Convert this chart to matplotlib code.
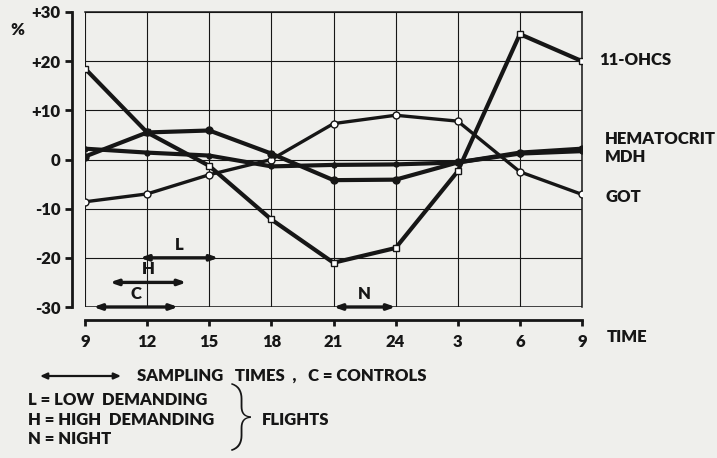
import numpy as np
import matplotlib
matplotlib.use("Agg")
import matplotlib.pyplot as plt
from matplotlib.patches import FancyArrowPatch

# sampling times (continuous clock hours, next day after 24)
times = [9, 12, 15, 18, 21, 24, 27, 30, 33]
tick_labels = ["9", "12", "15", "18", "21", "24", "3", "6", "9"]
y_ticks = [30, 20, 10, 0, -10, -20, -30]
y_tick_labels = ["+30", "+20", "+10", "0", "-10", "-20", "-30"]

# % change
ohcs = [18.5, 5.5, -1.3, -12.2, -21.0, -18.0, -2.4, 25.5, 20.0]
got = [-8.6, -7.0, -3.1, 0.0, 7.3, 9.0, 7.8, -2.5, -7.1]
hematocrit = [0.6, 5.5, 5.9, 1.2, -4.2, -4.1, -0.6, 1.4, 2.2]
mdh = [2.2, 1.4, 0.8, -1.4, -1.1, -1.0, -0.6, 1.2, 1.7]

# flight / control sampling windows
win_names = ["L", "H", "C", "N"]
win_start = [11.65, 10.2, 9.4, 21.0]
win_end = [15.45, 13.9, 13.5, 24.0]
win_level = [-20, -25, -30, -30]

W, H = 717, 458
INK = "#161616"
BG = "#efefec"
FS = 12

plt.rcParams["font.family"] = ["Lato", "DejaVu Sans"]
plt.rcParams["font.weight"] = "heavy"

fig = plt.figure(figsize=(W / 100, H / 100), dpi=100, facecolor=BG)
ax = fig.add_axes([85 / W, 1 - 307 / H, 497 / W, 295 / H], facecolor=BG)


def px(x, y):
    return x / W, 1 - y / H


ax.set_xlim(9, 33)
ax.set_ylim(-30, 30)
ax.set_xticks(times)
ax.set_xticklabels(tick_labels)
ax.set_yticks(y_ticks)
ax.set_yticklabels(y_tick_labels)
ax.grid(True, color=INK, lw=0.8)

for s in ["top", "right"]:
    ax.spines[s].set_color(INK)
    ax.spines[s].set_linewidth(1.1)
ax.axvline(9, color=INK, lw=1.1)
ax.axhline(-30, color=INK, lw=1.1)
for s in ["left", "bottom"]:
    ax.spines[s].set_position(("outward", 9.5))
    ax.spines[s].set_linewidth(2.0)
    ax.spines[s].set_color(INK)
ax.tick_params(axis="y", direction="out", length=5, width=2, color=INK,
               labelsize=FS, pad=3, labelcolor=INK)
ax.tick_params(axis="x", direction="out", length=4, width=2, color=INK,
               labelsize=FS, pad=6, labelcolor=INK)

ax.plot(times, ohcs, color=INK, lw=3.0, marker="s", ms=4.5, mfc="white",
        mec=INK, mew=1.0, solid_joinstyle="round", zorder=4)
ax.plot(times, got, color=INK, lw=2.4, marker="o", ms=5, mfc="white",
        mec=INK, mew=1.0, solid_joinstyle="round", zorder=4)
ax.plot(times, hematocrit, color=INK, lw=3.0, marker="o", ms=5, mfc=INK,
        mec=INK, solid_joinstyle="round", zorder=4)
ax.plot(times, mdh, color=INK, lw=3.0, marker="o", ms=3.5, mfc=INK,
        mec=INK, solid_joinstyle="round", zorder=4)

for name, a, b, lev in zip(win_names, win_start, win_end, win_level):
    ax.annotate("", xy=(b, lev), xytext=(a, lev),
                arrowprops=dict(arrowstyle="<|-|>,head_length=0.45,head_width=0.16",
                                color=INK, lw=2.4, shrinkA=0, shrinkB=0),
                annotation_clip=False, zorder=5)
    ax.text((a + b) / 2, lev + 1.0, name, ha="center", va="bottom",
            fontsize=FS, color=INK)

fig.text(*px(10, 30), "%", fontsize=FS, color=INK, va="center", ha="left")
fig.text(*px(599, 60), "11-OHCS", fontsize=FS, color=INK, va="center")
fig.text(*px(605, 139), "HEMATOCRIT", fontsize=FS, color=INK, va="center")
fig.text(*px(605, 157), "MDH", fontsize=FS, color=INK, va="center")
fig.text(*px(605, 197), "GOT", fontsize=FS, color=INK, va="center")
fig.text(*px(607, 337), "TIME", fontsize=FS, color=INK, va="center")

# key below the chart
fig.add_artist(FancyArrowPatch(
    px(40, 376), px(121, 376), transform=fig.transFigure,
    arrowstyle="<|-|>,head_length=4,head_width=1.8", color=INK, lw=1.6,
    shrinkA=0, shrinkB=0))
fig.text(*px(137, 376), "SAMPLING   TIMES  ,   C = CONTROLS", fontsize=FS,
         color=INK, va="center")
fig.text(*px(28, 400), "L = LOW  DEMANDING", fontsize=FS, color=INK, va="center")
fig.text(*px(28, 420), "H = HIGH  DEMANDING", fontsize=FS, color=INK, va="center")
fig.text(*px(28, 439), "N = NIGHT", fontsize=FS, color=INK, va="center")
fig.text(*px(230, 418), "}", fontsize=50, color=INK, va="center",
         family=["Roboto", "DejaVu Sans"], weight="light")
fig.text(*px(262, 420), "FLIGHTS", fontsize=FS, color=INK, va="center")

fig.savefig("out.png", dpi=100, facecolor=BG)
